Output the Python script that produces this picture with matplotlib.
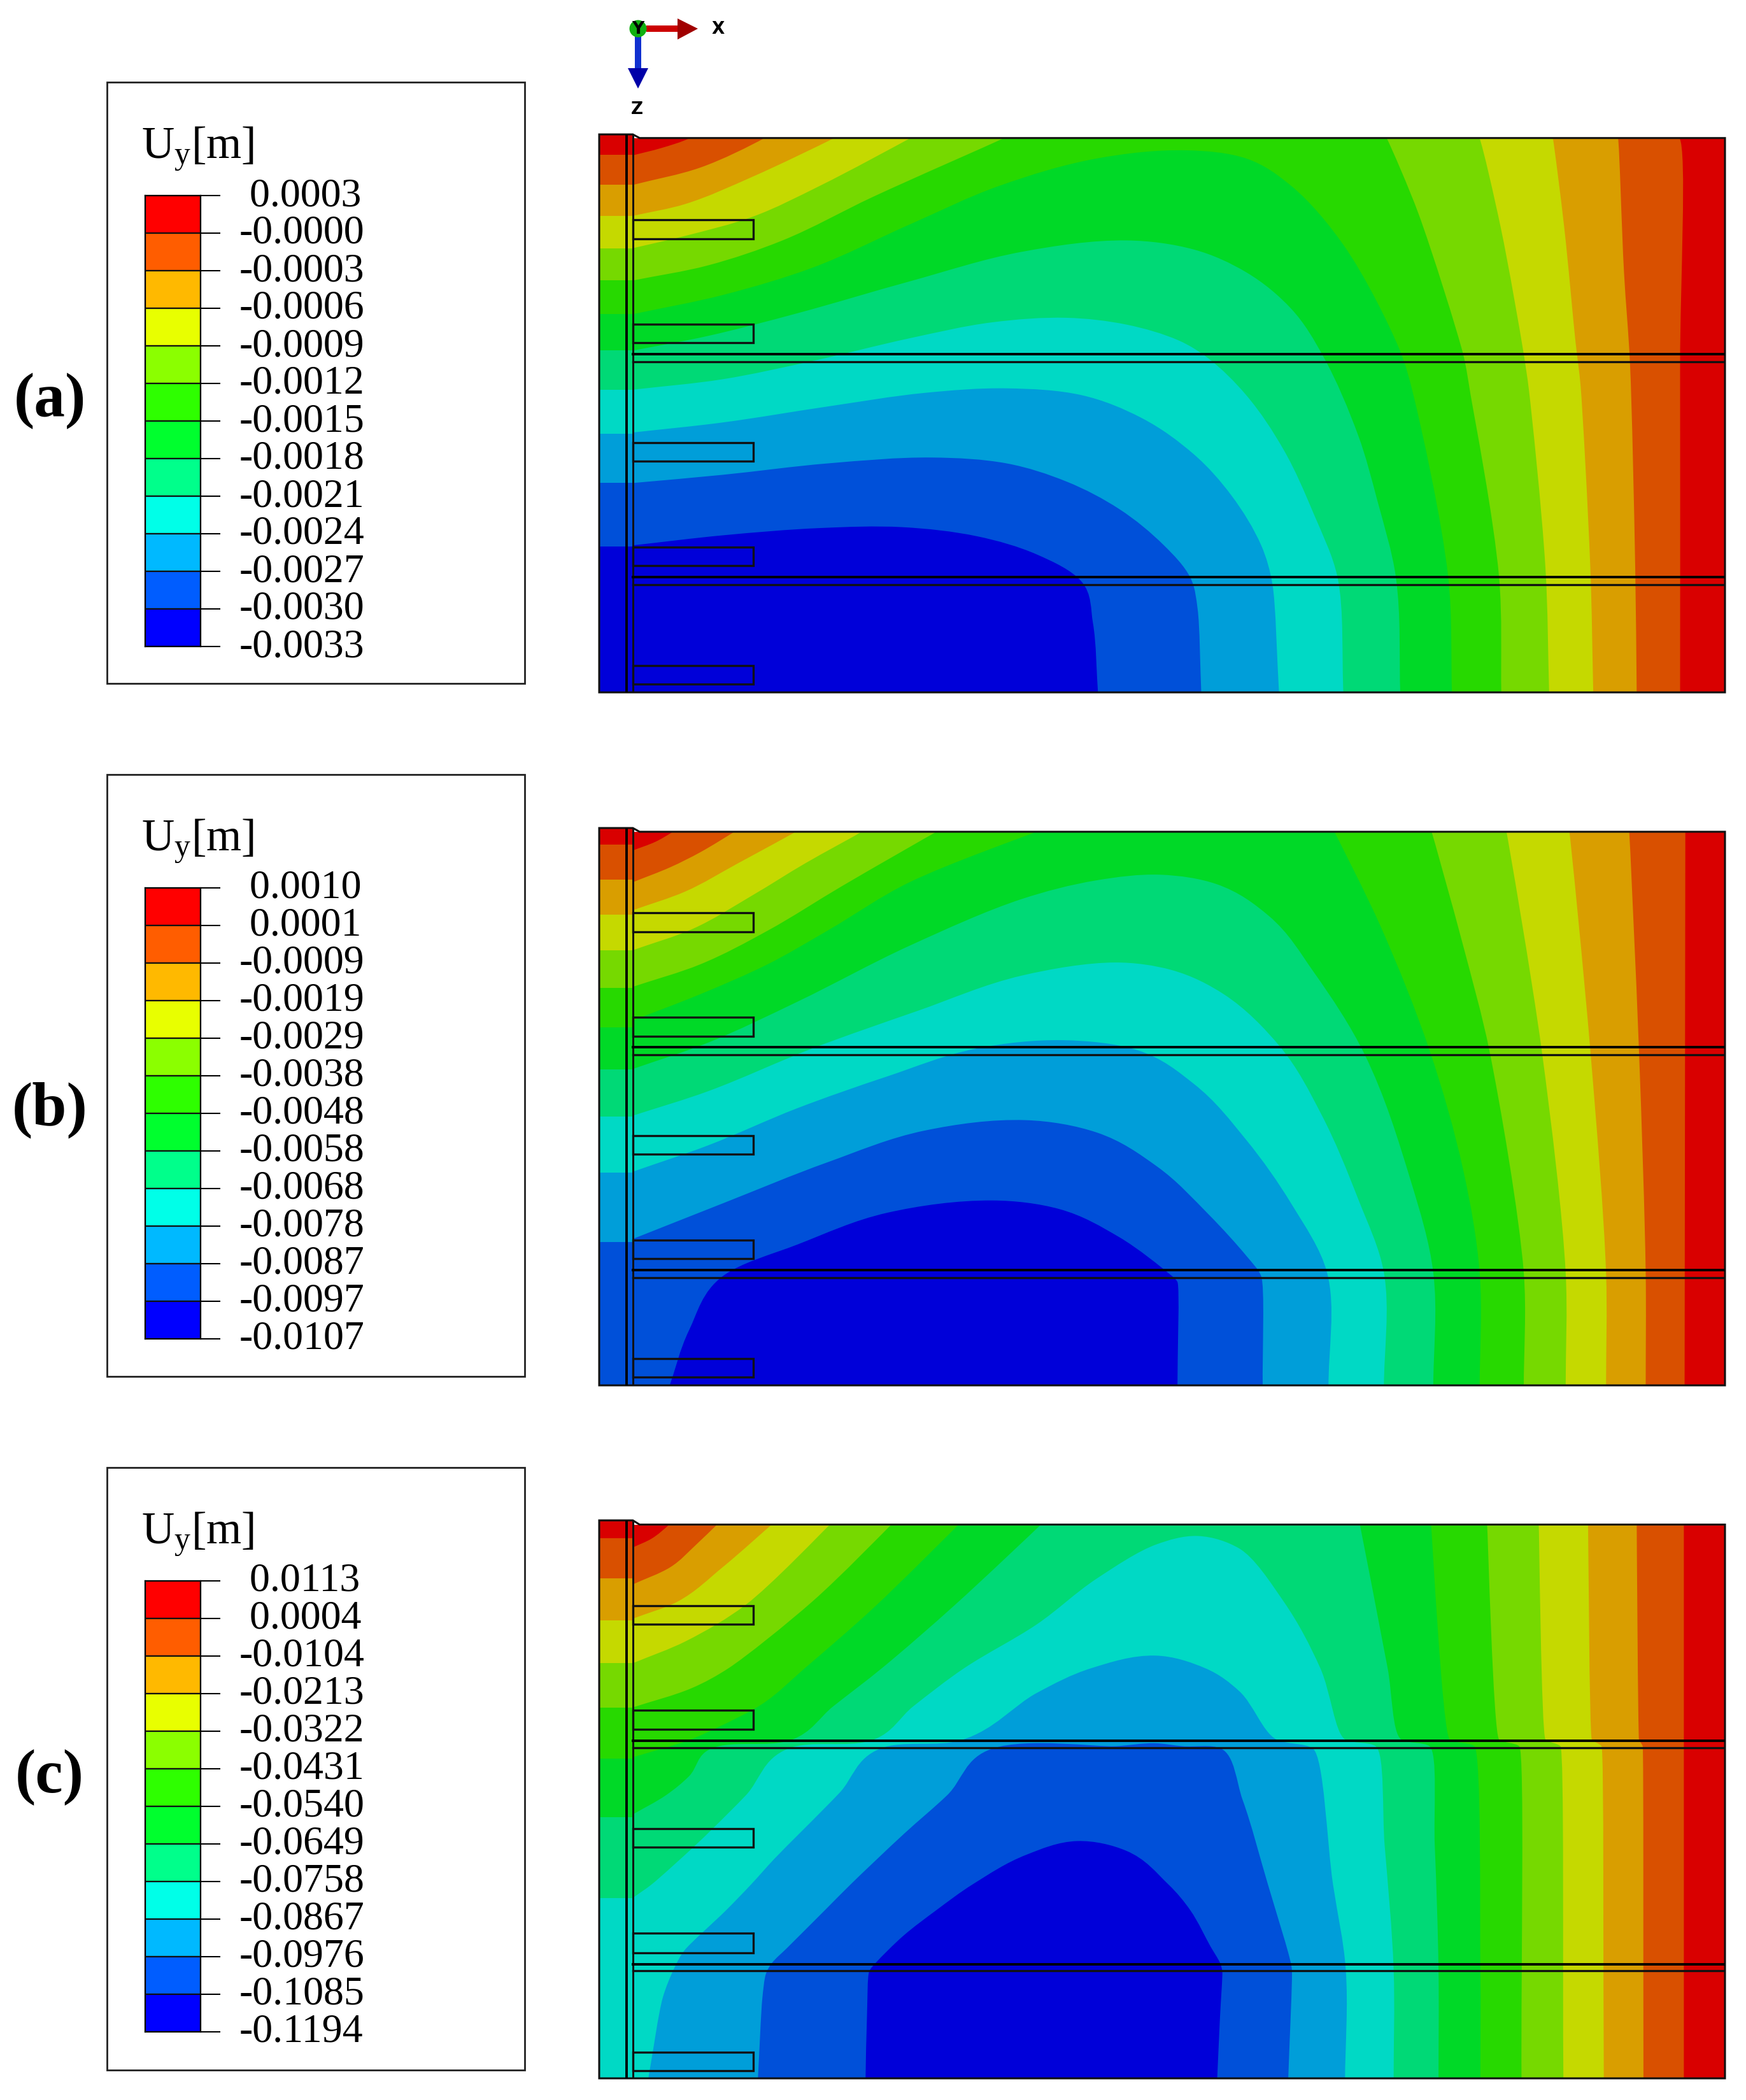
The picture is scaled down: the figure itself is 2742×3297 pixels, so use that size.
import numpy as np
import matplotlib
matplotlib.use("Agg")
import matplotlib.pyplot as plt
from matplotlib.path import Path
from matplotlib.patches import PathPatch, Rectangle, Polygon, Circle

plt.rcParams['font.family'] = ['Liberation Serif', 'DejaVu Serif']
plt.rcParams['mathtext.fontset'] = 'custom'
plt.rcParams['mathtext.rm'] = 'Liberation Serif'

W, H = 2742, 3298

# colours of the legend and of the (shaded) model, warm to cold
legend_colors = ['#FF0000', '#FF5D00', '#FFB900', '#E8FF00', '#8BFF00', '#2EFF00',
                 '#00FF2E', '#00FF8B', '#00FFE8', '#00B9FF', '#005DFF', '#0000FF']
field_colors = ['#D90000', '#D95000', '#D99E00', '#C5D900', '#76D900', '#27D900',
                '#00D927', '#00D976', '#00D9C5', '#009ED9', '#0050D9', '#0000D9']

ticks_a = ['0.0003', '-0.0000', '-0.0003', '-0.0006', '-0.0009', '-0.0012', '-0.0015',
           '-0.0018', '-0.0021', '-0.0024', '-0.0027', '-0.0030', '-0.0033']
ticks_b = ['0.0010', '0.0001', '-0.0009', '-0.0019', '-0.0029', '-0.0038', '-0.0048',
           '-0.0058', '-0.0068', '-0.0078', '-0.0087', '-0.0097', '-0.0107']
ticks_c = ['0.0113', '0.0004', '-0.0104', '-0.0213', '-0.0322', '-0.0431', '-0.0540',
           '-0.0649', '-0.0758', '-0.0867', '-0.0976', '-0.1085', '-0.1194']

# contour lines, one per colour step, as (x, depth)
lines_a = [
    [(80,343),(118,327),(155,306),(190,270),(1440,270),(1479,305),(1480,800),(1480,1530)],
    [(80,408),(170,370),(255,306),(290,270),(1390,270),(1397,305),(1405,600),(1413,800),(1420,1250),(1422,1530)],
    [(80,476),(150,450),(240,390),(348,306),(390,270),(1305,270),(1310,306),(1325,500),(1340,750),(1347,850),(1360,1250),(1364,1530)],
    [(80,547),(150,520),(240,478),(330,410),(450,306),(490,270),(1200,270),(1212,306),(1240,500),(1270,770),(1278,860),(1300,1250),(1305,1530)],
    [(80,618),(180,585),(280,530),(400,435),(575,306),(620,270),(1075,270),(1088,306),(1130,470),(1190,780),(1200,870),(1238,1270),(1241,1530)],
    [(80,692),(200,650),(320,590),(450,495),(570,410),(700,350),(820,332),(900,350),(960,410),(1030,540),(1105,770),(1125,880),(1170,1270),(1175,1530)],
    [(80,772),(180,740),(300,690),(450,620),(600,555),(740,530),(830,550),(900,600),(960,680),(1003,785),(1050,960),(1075,1100),(1100,1270),(1106,1530)],
    [(80,858),(200,835),(320,795),(450,745),(560,710),(660,700),(740,715),(810,750),(850,790),(900,870),(950,990),(990,1130),(1022,1270),(1030,1530)],
    [(80,952),(200,930),(340,895),(470,865),(580,855),(680,870),(760,920),(830,1000),(880,1090),(920,1200),(935,1285),(944,1530)],
    [(80,1063),(200,1045),(340,1020),(480,1007),(580,1020),(660,1060),(730,1120),(790,1200),(825,1270),(835,1340),(840,1530)],
    [(80,1200),(200,1178),(330,1162),(440,1160),(540,1180),(620,1220),(680,1280),(695,1370),(702,1530)],
]
lines_b = [
    [(80,95),(110,72),(133,46),(150,25),(1487,25),(1487,46),(1486,1535)],
    [(80,180),(130,140),(170,100),(215,46),(232,25),(1410,25),(1412,46),(1425,630),(1434,1225),(1434,1535)],
    [(80,255),(150,205),(220,130),(297,46),(315,25),(1328,25),(1332,46),(1360,630),(1381,1225),(1381,1535)],
    [(80,362),(160,305),(240,215),(310,130),(385,46),(400,25),(1245,25),(1248,46),(1295,630),(1327,1225),(1327,1535)],
    [(80,460),(170,400),(260,310),(360,190),(485,46),(505,25),(1144,25),(1148,46),(1190,350),(1225,630),(1271,1225),(1271,1535)],
    [(80,550),(170,480),(260,400),(340,310),(450,180),(618,46),(640,25),(1012,25),(1018,46),(1080,300),(1145,630),(1190,950),(1212,1225),(1212,1535)],
    [(80,680),(180,610),(300,500),(450,350),(600,225),(700,175),(785,160),(860,185),(930,270),(990,420),(1058,640),(1120,980),(1150,1225),(1150,1535)],
    [(80,805),(180,740),(320,625),(460,525),(600,430),(725,395),(800,415),(870,480),(945,620),(1000,800),(1050,1030),(1084,1225),(1084,1535)],
    [(80,955),(180,885),(300,785),(420,700),(540,625),(655,603),(755,630),(830,720),(900,870),(960,1040),(1008,1225),(1010,1535)],
    [(80,1135),(200,1040),(340,930),(470,845),(605,817),(700,850),(780,940),(850,1070),(900,1180),(920,1235),(922,1535)],
    [(128,1535),(155,1380),(200,1235),(300,1150),(420,1065),(560,1032),(650,1055),(730,1130),(795,1225),(808,1250),(808,1535)],
]
lines_c = [
    [(80,118),(105,95),(128,59),(140,35),(1485,35),(1485,59),(1485,1520)],
    [(80,215),(130,170),(165,110),(192,59),(205,35),(1422,35),(1422,59),(1425,622),(1430,640),(1431,1520)],
    [(80,305),(140,260),(200,170),(265,59),(280,35),(1356,35),(1357,59),(1362,622),(1375,640),(1378,1520)],
    [(80,422),(150,365),(230,270),(343,59),(358,35),(1289,35),(1291,59),(1300,622),(1320,640),(1324,1520)],
    [(80,538),(158,488),(208,435),(320,260),(425,59),(440,30),(1219,30),(1222,59),(1238,622),(1265,640),(1268,1520)],
    [(80,669),(155,624),(193,591),(253,529),(310,435),(400,280),(515,59),(530,30),(1143,30),(1147,59),(1172,622),(1205,640),(1213,1225),(1213,1520)],
    [(80,819),(124,769),(155,719),(185,646),(291,624),(348,535),(413,435),(510,270),(625,59),(640,30),(1048,30),(1052,59),(1089,435),(1107,622),(1145,640),(1152,900),(1157,1225),(1157,1520)],
    [(80,1038),(105,1003),(162,903),(189,852),(231,769),(288,646),(400,624),(455,535),(523,435),(620,320),(700,200),(780,110),(835,88),(890,120),(950,260),(999,435),(1032,622),(1073,640),(1085,900),(1097,1225),(1097,1520)],
    [(100,1520),(120,1300),(136,1220),(149,1176),(205,1070),(238,1003),(269,936),(356,763),(411,646),(519,624),(621,499),(693,435),(778,402),(845,435),(891,496),(940,622),(989,646),(1016,1003),(1033,1225),(1032,1520)],
    [(247,1520),(253,1304),(258,1237),(266,1209),(286,1170),(337,1070),(371,1003),(443,869),(500,769),(561,646),(725,640),(777,632),(815,640),(866,646),(895,780),(929,1003),(956,1181),(961,1226),(956,1520)],
    [(391,1520),(393,1348),(396,1231),(406,1206),(442,1137),(486,1070),(534,1003),(606,925),(674,889),(739,914),(796,1003),(825,1070),(852,1165),(865,1209),(868,1231),(865,1348),(861,1520)],
]

# depth where the colour changes on the retaining wall
wall_a = [342, 408, 476, 547, 618, 692, 772, 858, 955, 1063, 1202]
wall_b = [80, 173, 267, 362, 463, 568, 682, 808, 958, 1143]
wall_c = [93, 200, 310, 422, 538, 672, 827, 1038]

# anchors and struts (depth of top and bottom edge)
anchors_a = [(484,526), (714,755), (974,1015), (1204,1245), (1464,1505)]
anchors_b = [(262,313), (542,593), (858,908), (1138,1188), (1455,1505)]
anchors_c = [(271,320), (545,595), (856,905), (1130,1182), (1443,1492)]
struts_a = [(780,796), (1270,1286)]
struts_b = [(622,642), (1219,1239)]
struts_c = [(625,644), (1212,1230)]

WALL_L, WALL_M, WALL_R, SOIL_R, ANCHOR_R = 35, 72, 80, 1540, 241
EDGE = '#111111'


def smooth_path(pts, bottom):
    pts = np.array(pts, dtype=float)
    n = len(pts)

    def unit(v):
        return v / max(np.hypot(*v), 1e-9)

    seg = np.hypot(*(pts[1:] - pts[:-1]).T)
    tang = []
    for i in range(n):
        a = pts[i] - pts[max(i - 1, 0)]
        b = pts[min(i + 1, n - 1)] - pts[i]
        tang.append(unit(unit(a) + unit(b)))
    verts = [pts[0]]
    codes = [Path.MOVETO]
    for i in range(n - 1):
        # arm limited by the next segment, keeps the long ones from wiggling
        arm0 = min(seg[i], 1.5 * seg[max(i - 1, 0)]) / 3
        arm1 = min(seg[i], 1.5 * seg[min(i + 1, n - 2)]) / 3
        verts += [pts[i] + tang[i] * arm0, pts[i + 1] - tang[i + 1] * arm1, pts[i + 1]]
        codes += [Path.CURVE4] * 3
    verts += [(pts[-1][0], bottom + 60), (WALL_R - 2, bottom + 60), pts[0]]
    codes += [Path.LINETO, Path.LINETO, Path.CLOSEPOLY]
    return Path(verts, codes)


def draw_panel(box, wall_top, soil_top, bottom, lines, wall, anchors, struts):
    left, top, right, low = box
    ax = fig.add_axes([left / W, 1 - low / H, (right - left) / W, (low - top) / H])
    ax.set_xlim(WALL_L, SOIL_R)
    ax.set_ylim(bottom, wall_top)
    ax.axis('off')

    soil = Rectangle((WALL_R, soil_top), SOIL_R - WALL_R, bottom - soil_top,
                     fc=field_colors[0], ec='none', transform=ax.transData)
    ax.add_patch(soil)
    clip = Rectangle((WALL_R, soil_top), SOIL_R - WALL_R, bottom - soil_top, transform=ax.transData)
    for i, line in enumerate(lines):
        p = PathPatch(smooth_path(line, bottom), fc=field_colors[i + 1], ec='none', lw=0)
        ax.add_patch(p)
        p.set_clip_path(clip)

    edges = [wall_top] + wall + [bottom]
    for i in range(len(edges) - 1):
        ax.fill_between([WALL_L, WALL_R], edges[i], edges[i + 1], color=field_colors[i], lw=0)

    outline = [(WALL_L, bottom), (WALL_L, wall_top), (WALL_R, wall_top), (WALL_R + 9, soil_top),
               (SOIL_R, soil_top), (SOIL_R, bottom)]
    ax.add_patch(Polygon(outline, closed=True, fill=False, ec=EDGE, lw=2.2, clip_on=False, zorder=5))
    ax.plot([WALL_M, WALL_M], [wall_top, bottom], color='k', lw=2.8, zorder=5)
    ax.plot([WALL_R, WALL_R], [wall_top, bottom], color=EDGE, lw=2.2, zorder=5)
    for z0, z1 in anchors:
        ax.add_patch(Rectangle((WALL_R, z0), ANCHOR_R - WALL_R, z1 - z0, fill=False, ec=EDGE, lw=2.4, zorder=5))
    for z0, z1 in struts:
        ax.plot([WALL_R, SOIL_R], [z0, z0], color='k', lw=2.8, zorder=5)
        ax.plot([WALL_R, SOIL_R], [z1, z1], color=EDGE, lw=2.4, zorder=5)


def draw_legend(box_top, box_bottom, ticks, label, label_y):
    over.add_patch(Rectangle((168, box_top), 656, box_bottom - box_top, fill=False, ec='#222222', lw=2.0))
    over.text(222, box_top + 119, r'$\mathrm{U_y[m]}$', fontsize=51, ha='left', va='baseline')
    over.text(78, label_y, label, fontsize=70, fontweight='bold', ha='center', va='center')

    cb_top = box_top + 178
    cax = fig.add_axes([228 / W, 1 - (cb_top + 708) / H, 87 / W, 708 / H])
    cax.barh(np.arange(12) + 0.5, 1, height=1, color=legend_colors, edgecolor='#111111', linewidth=1.6)
    cax.set_xlim(0, 1)
    cax.set_ylim(12, 0)
    cax.set_xticks([])
    cax.yaxis.tick_right()
    cax.set_yticks(np.arange(13))
    cax.set_yticklabels([(' ' + t if not t.startswith('-') else t) for t in ticks], fontsize=46, ha='left')
    cax.tick_params(axis='y', length=22, width=1.5, pad=22)
    for lab in cax.get_yticklabels():
        lab.set_verticalalignment('center')
    for s in cax.spines.values():
        s.set_linewidth(1.6)


fig = plt.figure(figsize=(W / 100, H / 100), dpi=100)
over = fig.add_axes([0, 0, 1, 1])
over.set_xlim(0, W)
over.set_ylim(H, 0)
over.axis('off')

# coordinate triad
over.add_patch(Rectangle((1015, 41), 50, 10, fc='#CC0000', ec='none'))
over.add_patch(Polygon([(1064, 30), (1096, 46), (1064, 63)], fc='#A00000', ec='none'))
over.add_patch(Rectangle((997, 55), 10, 55, fc='#1030D0', ec='none'))
over.add_patch(Polygon([(986, 108), (1018, 108), (1002, 140)], fc='#0000A8', ec='none'))
over.add_patch(Circle((1002, 46), 13.5, fc='#10B010', ec='none'))
tri_font = dict(family='DejaVu Sans', fontweight='bold', fontsize=19, ha='center', va='center', color='k')
over.text(1002, 46, 'Y', **tri_font)
over.text(1128, 46, 'X', **tri_font)
over.text(1000, 172, 'Z', **tri_font)

draw_legend(130, 1074, ticks_a, '(a)', 630)
draw_legend(1217, 2162, ticks_b, '(b)', 1743)
draw_legend(2305, 3251, ticks_c, '(c)', 2791)

draw_panel((941, 212, 2709, 1088), 297, 305, 1523, lines_a, wall_a, anchors_a, struts_a)
draw_panel((941, 1301, 2709, 2176), 35, 45, 1527, lines_b, wall_b, anchors_b, struts_b)
draw_panel((941, 2388, 2709, 3264), 47, 58, 1512, lines_c, wall_c, anchors_c, struts_c)

fig.savefig('out.png', dpi=100)
